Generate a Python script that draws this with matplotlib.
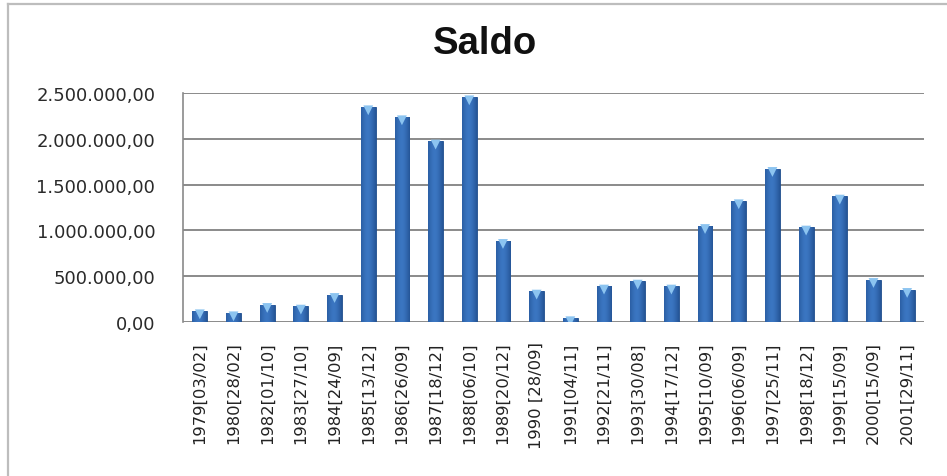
import matplotlib
matplotlib.use("Agg")
import matplotlib.pyplot as plt
import numpy as np
from matplotlib.ticker import FuncFormatter, MultipleLocator
from matplotlib.lines import Line2D
from matplotlib.colors import LinearSegmentedColormap

categories = ["1979[03/02]", "1980[28/02]", "1982[01/10]", "1983[27/10]", "1984[24/09]",
              "1985[13/12]", "1986[26/09]", "1987[18/12]", "1988[06/10]", "1989[20/12]",
              "1990 [28/09]", "1991[04/11]", "1992[21/11]", "1993[30/08]", "1994[17/12]",
              "1995[10/09]", "1996[06/09]", "1997[25/11]", "1998[18/12]", "1999[15/09]",
              "2000[15/09]", "2001[29/11]"]
saldo = [120000, 98000, 189000, 171000, 298000,
         2347000, 2238000, 1973000, 2456000, 888000,
         335000, 44000, 390000, 444000, 390000,
         1051000, 1321000, 1674000, 1034000, 1372000,
         462000, 353000]
title = "Saldo"

W, H = 947, 477
fig = plt.figure(figsize=(W / 100, H / 100), dpi=100)
fig.patch.set_facecolor("white")
ax = fig.add_axes([183 / W, 1 - 323 / H, (924 - 183) / W, (323 - 94) / H])

x = np.arange(len(categories))
bw = 0.44
bars = ax.bar(x, saldo, width=bw, color="#2f63a8", edgecolor="#1f4d8c", linewidth=0.6, zorder=3)

# horizontal cylinder-like shading
grad = np.linspace(0, 1, 64)
shade = 1 - 0.55 * (2 * np.abs(grad - 0.45)) ** 1.6
cmap = LinearSegmentedColormap.from_list("b", ["#18427e", "#3b76c2"])
for b in bars:
    x0, w, h = b.get_x(), b.get_width(), b.get_height()
    im = ax.imshow(shade[np.newaxis, :], cmap=cmap, vmin=0, vmax=1, aspect="auto",
                   extent=(x0, x0 + w, 0, h), zorder=3.5, interpolation="bicubic")
    im.set_clip_path(b)

# light triangle bevel at bar tops
ax.scatter(x, np.array(saldo) - 36000, marker="v", s=50, color="#8cc4f0",
           edgecolors="none", zorder=4)

ax.set_xlim(-0.5, len(categories) - 0.5)
ax.set_ylim(0, 2500000)
ax.yaxis.set_major_locator(MultipleLocator(500000))

def fmt(v, pos):
    s = f"{v:,.2f}"
    return s.replace(",", "X").replace(".", ",").replace("X", ".")

ax.yaxis.set_major_formatter(FuncFormatter(fmt))
ax.grid(axis="y", color="#8a8a8a", linewidth=1.4, zorder=0)
ax.set_axisbelow(True)
for s in ["top", "right", "bottom"]:
    ax.spines[s].set_visible(False)
ax.spines["left"].set_color("#8a8a8a")
ax.spines["left"].set_linewidth(1.2)

ax.set_xticks(x)
ax.set_xticklabels(categories, rotation=90, fontsize=11.8, color="#222222",
                   family="DejaVu Sans", va="top", ha="center")
ax.tick_params(axis="x", length=0, pad=14)
ax.tick_params(axis="y", length=0, pad=20, labelsize=13, labelcolor="#2a2a2a")
for t in ax.get_yticklabels():
    t.set_family("DejaVu Sans")

fig.text(485 / W, 1 - 44 / H, title, ha="center", va="center", fontsize=27.5,
         fontweight="bold", family="Liberation Sans", color="#111111")

fig.add_artist(Line2D([8 / W, 8 / W], [0, 1 - 5 / H], transform=fig.transFigure,
                      color="#bdbdbd", linewidth=1.6))
fig.add_artist(Line2D([8 / W, 1], [1 - 5 / H, 1 - 5 / H], transform=fig.transFigure,
                      color="#bdbdbd", linewidth=1.6))

fig.savefig("out.png", dpi=100, facecolor="white")
